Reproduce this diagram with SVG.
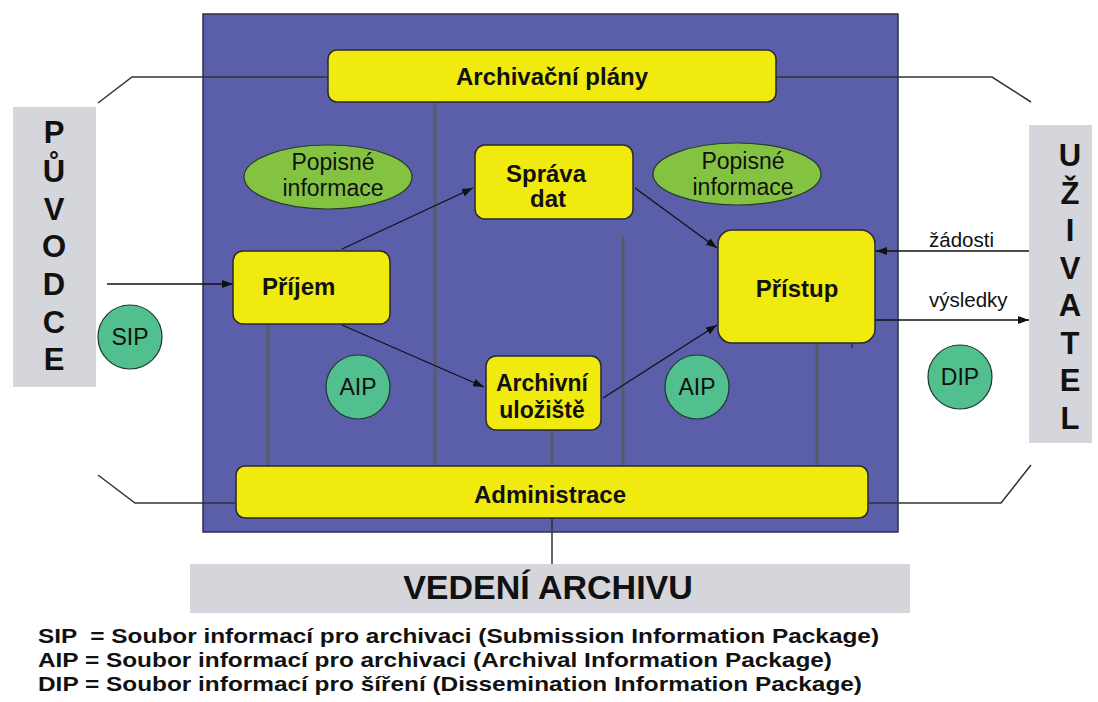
<svg xmlns="http://www.w3.org/2000/svg" width="1098" height="702" viewBox="0 0 1098 702">
<style>
.bg{fill:#ffffff}
.frame{fill:#5b5ea9;stroke:#2e2f45;stroke-width:1.5}
.box{fill:#f1ea0e;stroke:#2a2a2a;stroke-width:1.5}
.side{fill:#d4d6db}
.ell{fill:#84c341;stroke:#2a3a2a;stroke-width:1.2}
.pkg{fill:#52bf8f;stroke:#1e3a2e;stroke-width:1.2}
.t{font-family:"Liberation Sans",Arial,sans-serif;fill:#111}
.b{font-weight:bold}
.lbl{font-size:24px;font-weight:bold;text-anchor:middle}
.lbs{font-size:23px;font-weight:bold;text-anchor:middle}
.reg{font-size:23px;text-anchor:middle}
.big{font-size:31px;font-weight:bold;text-anchor:middle}
.leg{font-size:21px;font-weight:bold}
.out{fill:none;stroke:#333;stroke-width:1.5}
.vl{fill:none;stroke:#565a66;stroke-width:3}
.arr{fill:none;stroke:#111;stroke-width:1.3;marker-end:url(#ah)}
</style>
<defs>
<marker id="ah" markerWidth="11" markerHeight="8" refX="11" refY="4" orient="auto" markerUnits="userSpaceOnUse">
<path d="M0,0 L11,4 L0,8 z" fill="#111"/>
</marker>
</defs>
<rect class="bg" x="0" y="0" width="1098" height="702"/>
<rect id="oais" class="frame" x="203" y="14" width="695" height="518"/>

<g id="connectors">
<polyline class="out" points="98,103 132,77 328,77"/>
<polyline class="out" points="776,77 992,77 1031,102"/>
<polyline class="out" points="98,475 135,503 236,503"/>
<polyline class="out" points="868,503 1001,503 1031,465"/>
<line class="vl" x1="268" y1="324" x2="268" y2="466"/>
<line class="vl" x1="435" y1="102" x2="435" y2="466"/>
<line class="vl" x1="552" y1="430" x2="552" y2="466"/>
<line class="vl" x1="623" y1="236" x2="623" y2="466"/>
<line class="vl" x1="817" y1="343" x2="817" y2="466"/>
<line class="out" x1="852" y1="343" x2="852" y2="348"/>
<line class="out" x1="552" y1="518" x2="552" y2="564"/>
<line class="arr" x1="107" y1="284" x2="233" y2="284"/>
<line class="arr" x1="342" y1="249" x2="473" y2="188"/>
<line class="arr" x1="342" y1="325" x2="484" y2="387"/>
<line class="arr" x1="635" y1="188" x2="717" y2="248"/>
<line class="arr" x1="603" y1="398" x2="717" y2="325"/>
<line class="arr" x1="1029" y1="251" x2="876" y2="251"/>
<line class="arr" x1="875" y1="320" x2="1029" y2="320"/>
<text class="t" x="929" y="247" font-size="20.5">žádosti</text>
<text class="t" x="929" y="307" font-size="20.5">výsledky</text>
</g>

<g id="puvodce">
<rect class="side" x="13" y="107" width="83" height="280"/>
<text class="t big" x="54" y="143">P</text>
<text class="t big" x="54" y="182">Ů</text>
<text class="t big" x="54" y="220">V</text>
<text class="t big" x="54" y="257">O</text>
<text class="t big" x="54" y="295">D</text>
<text class="t big" x="54" y="333">C</text>
<text class="t big" x="54" y="370">E</text>
</g>

<g id="uzivatel">
<rect class="side" x="1029" y="125" width="63" height="318"/>
<text class="t big" x="1070" y="166">U</text>
<text class="t big" x="1070" y="204">Ž</text>
<text class="t big" x="1070" y="241">I</text>
<text class="t big" x="1070" y="279">V</text>
<text class="t big" x="1070" y="316">A</text>
<text class="t big" x="1070" y="354">T</text>
<text class="t big" x="1070" y="391">E</text>
<text class="t big" x="1070" y="429">L</text>
</g>

<g id="archivacni-plany">
<rect class="box" x="328" y="50" width="448" height="52" rx="9"/>
<text class="t lbl" x="552" y="85">Archivační plány</text>
</g>

<g id="popisne-1">
<ellipse class="ell" cx="328" cy="177" rx="84" ry="32"/>
<text class="t reg" x="333" y="170">Popisné</text>
<text class="t reg" x="333" y="196">informace</text>
</g>

<g id="popisne-2">
<ellipse class="ell" cx="737" cy="174" rx="84" ry="31"/>
<text class="t reg" x="743" y="169">Popisné</text>
<text class="t reg" x="743" y="195">informace</text>
</g>

<g id="sprava-dat">
<rect class="box" x="475" y="145" width="158" height="74" rx="10"/>
<text class="t lbl" x="546" y="182">Správa</text>
<text class="t lbl" x="548" y="207">dat</text>
</g>

<g id="prijem">
<rect class="box" x="233" y="251" width="157" height="73" rx="10"/>
<text class="t b" x="262" y="295" font-size="24">Příjem</text>
</g>

<g id="pristup">
<rect class="box" x="718" y="230" width="157" height="113" rx="14"/>
<text class="t lbl" x="797" y="297">Přístup</text>
</g>

<g id="archivni-ulociste">
<rect class="box" x="486" y="356" width="115" height="74" rx="10"/>
<text class="t lbs" x="542" y="391">Archivní</text>
<text class="t lbs" x="542" y="418">uložiště</text>
</g>

<g id="administrace">
<rect class="box" x="236" y="466" width="632" height="52" rx="9"/>
<text class="t lbl" x="550" y="503">Administrace</text>
</g>

<g id="sip">
<circle class="pkg" cx="130" cy="337" r="32"/>
<text class="t reg" x="130" y="345">SIP</text>
</g>
<g id="aip-1">
<circle class="pkg" cx="358" cy="387" r="32"/>
<text class="t reg" x="358" y="395">AIP</text>
</g>
<g id="aip-2">
<circle class="pkg" cx="697" cy="387" r="32"/>
<text class="t reg" x="697" y="395">AIP</text>
</g>
<g id="dip">
<circle class="pkg" cx="960" cy="377" r="32"/>
<text class="t reg" x="960" y="385">DIP</text>
</g>

<g id="vedeni-archivu">
<rect class="side" x="190" y="564" width="720" height="49"/>
<text class="t b" x="548" y="599" font-size="34" text-anchor="middle">VEDENÍ ARCHIVU</text>
</g>

<g id="legend">
<text class="t leg" x="38" y="643" xml:space="preserve" textLength="841" lengthAdjust="spacingAndGlyphs">SIP  = Soubor informací pro archivaci (Submission Information Package)</text>
<text class="t leg" x="38" y="667" textLength="794" lengthAdjust="spacingAndGlyphs">AIP = Soubor informací pro archivaci (Archival Information Package)</text>
<text class="t leg" x="38" y="691" textLength="824" lengthAdjust="spacingAndGlyphs">DIP = Soubor informací pro šíření (Dissemination Information Package)</text>
</g>
</svg>
